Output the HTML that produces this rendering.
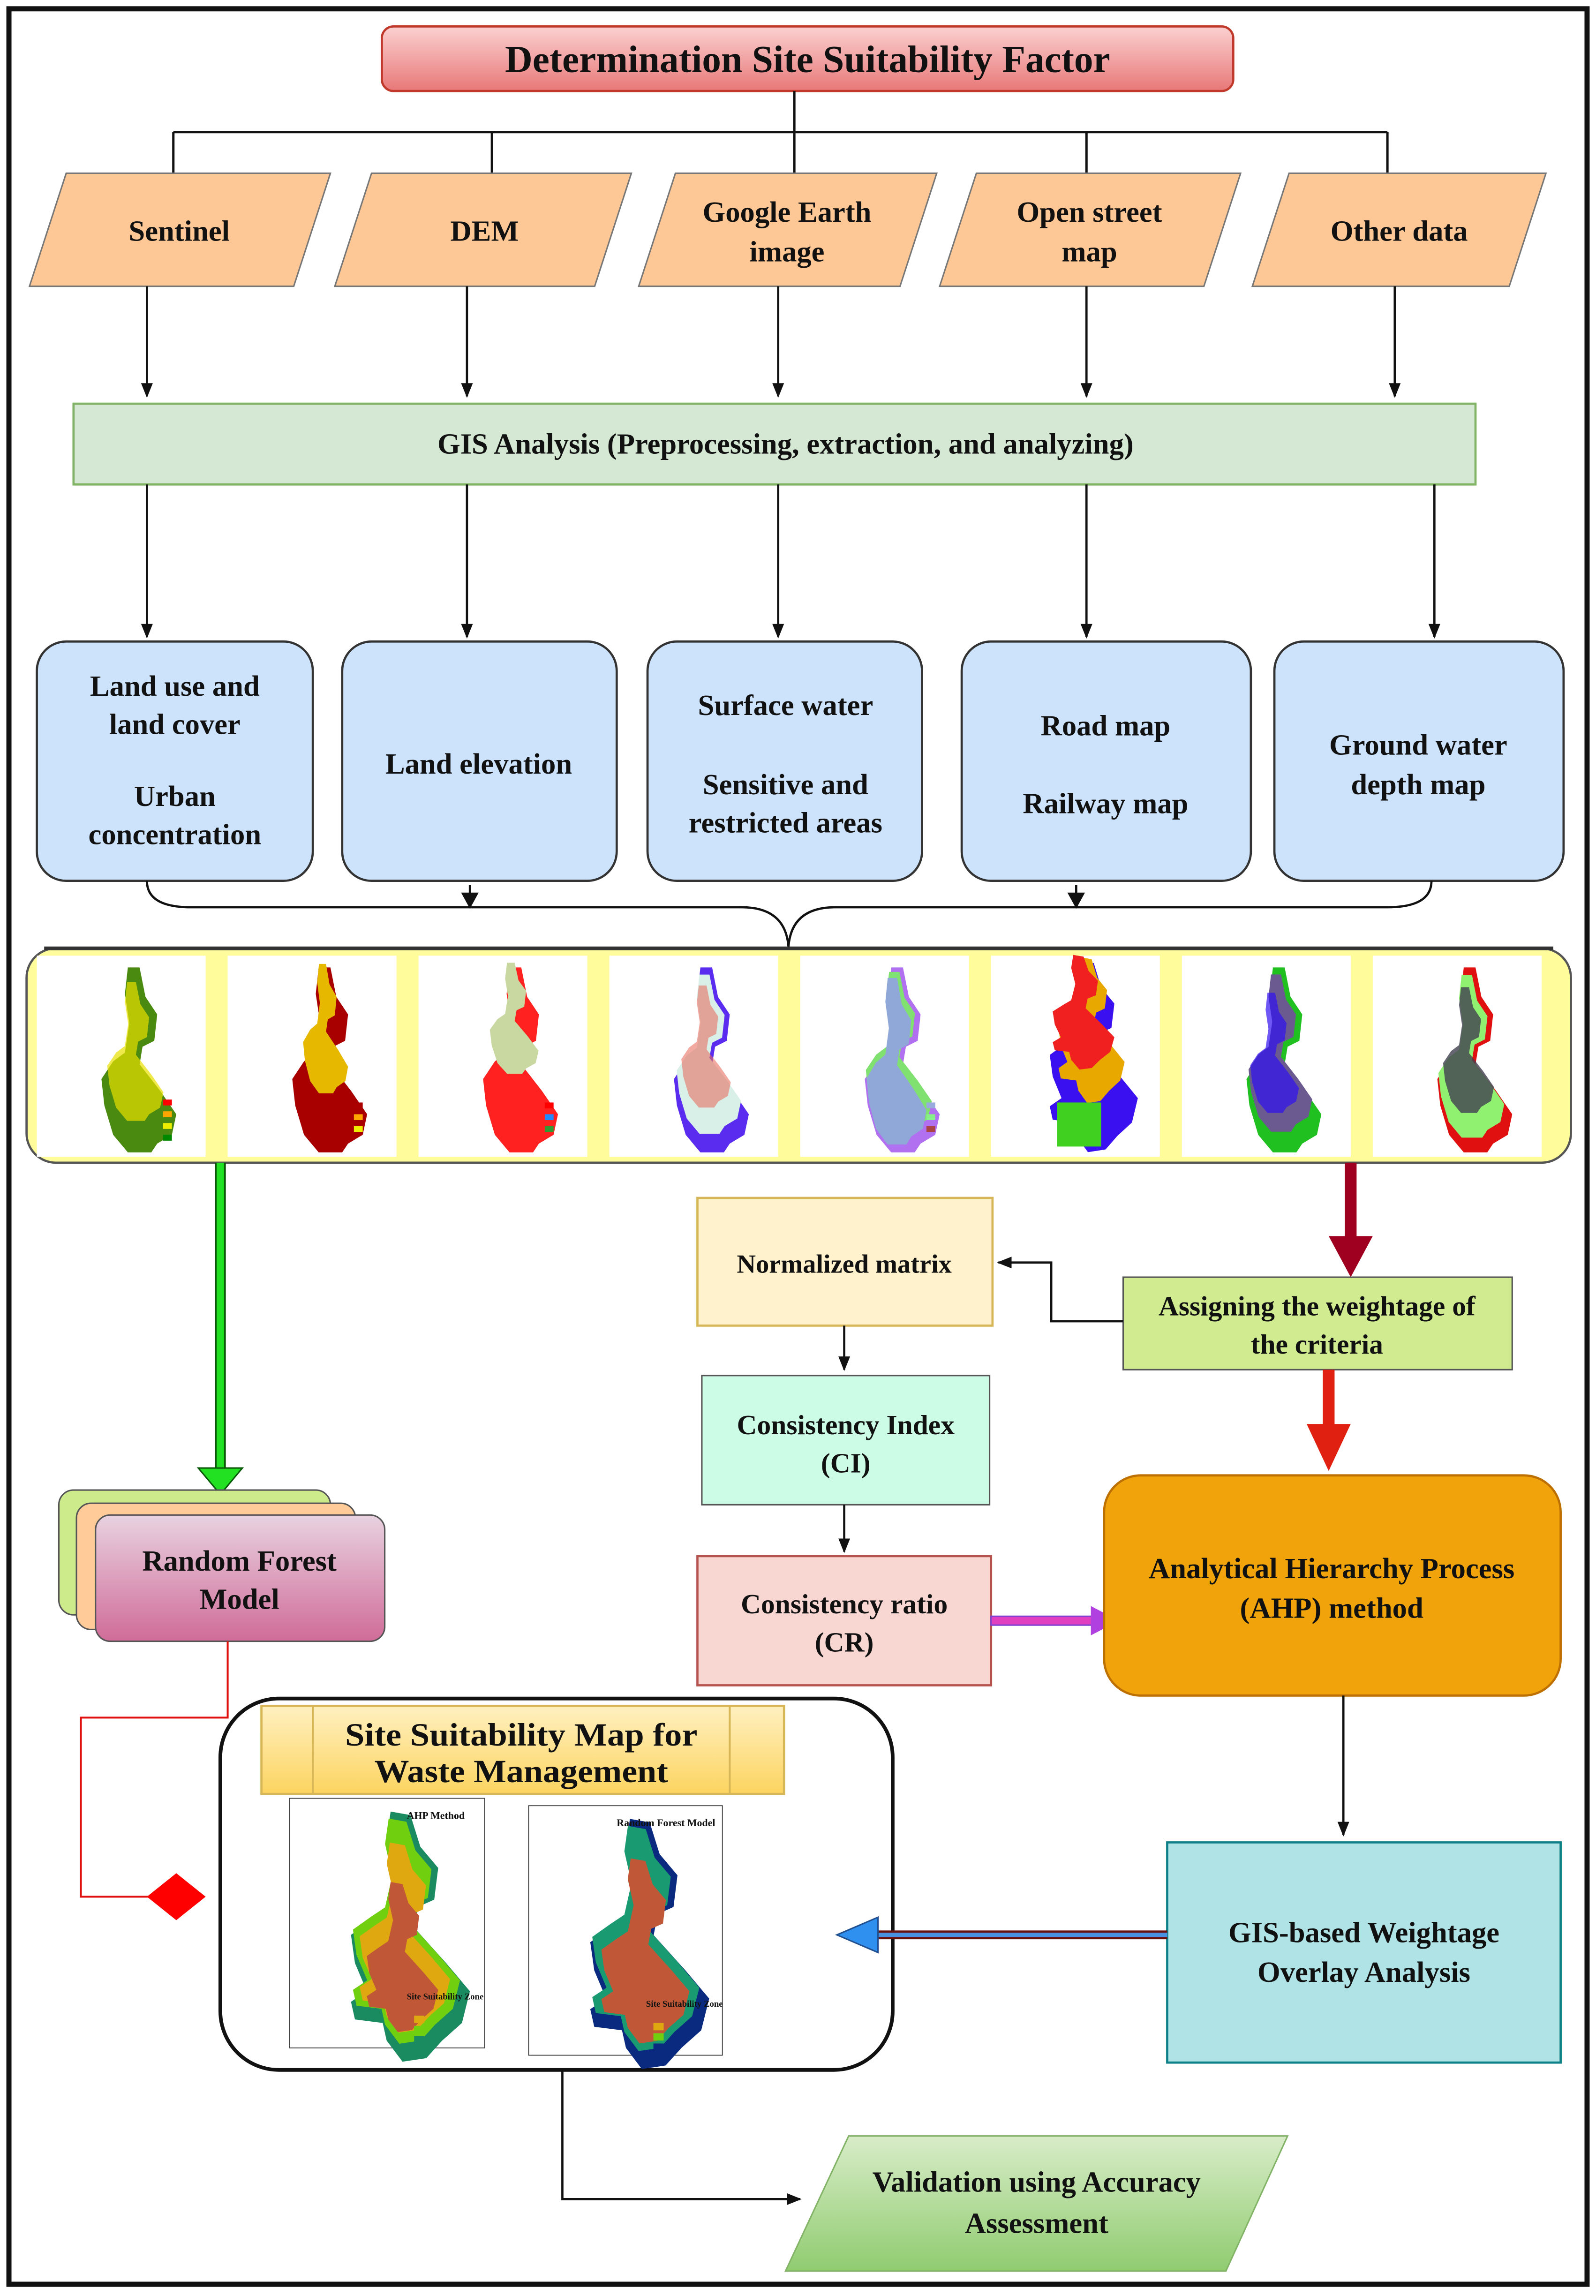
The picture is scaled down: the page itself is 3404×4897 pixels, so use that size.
<!DOCTYPE html>
<html><head><meta charset="utf-8"><style>
html,body{margin:0;padding:0;background:#fff}
svg{display:block}
text{font-family:"Liberation Serif",serif;font-weight:bold;fill:#111}
</style></head><body>
<svg width="3404" height="4897" viewBox="0 0 1087 1564" xmlns="http://www.w3.org/2000/svg">
<defs>
<linearGradient id="gt" x1="0" y1="0" x2="0" y2="1"><stop offset="0" stop-color="#fbd0d0"/><stop offset="1" stop-color="#e87878"/></linearGradient>
<linearGradient id="grf" x1="0" y1="0" x2="0" y2="1"><stop offset="0" stop-color="#e8d2e0"/><stop offset="1" stop-color="#d06c98"/></linearGradient>
<linearGradient id="ggold" x1="0" y1="0" x2="0" y2="1"><stop offset="0" stop-color="#fff0c0"/><stop offset="1" stop-color="#fcd460"/></linearGradient>
<linearGradient id="gval" x1="0" y1="0" x2="0" y2="1"><stop offset="0" stop-color="#d8ecc8"/><stop offset="1" stop-color="#90cc70"/></linearGradient>
<marker id="ah" markerWidth="10" markerHeight="10" refX="9" refY="5" orient="auto" markerUnits="userSpaceOnUse"><path d="M0,1 L10,5 L0,9 Z" fill="#111"/></marker>
<path id="reg" d="M62,8 L70,8 L74,28 L82,40 L80,58 L72,62 L70,74 L84,92 L95,108 L92,122 L82,128 L78,134 L62,134 L52,122 L46,102 L44,84 L52,72 L60,66 L63,46 L60,26 Z"/>
<path id="reg2" d="M60,10 L70,12 L75,30 L84,42 L82,60 L74,64 L72,76 L88,96 L100,112 L96,130 L86,140 L78,150 L66,152 L58,140 L56,130 L42,128 L40,118 L48,112 L42,96 L40,80 L50,72 L58,66 L62,46 L58,26 Z"/>
</defs>
<rect x="0" y="0" width="1087" height="1564" fill="#fff"/>
<rect x="6" y="6" width="1075" height="1550" fill="none" stroke="#111" stroke-width="3.5"/>

<rect x="260" y="18" width="580" height="44" rx="8" fill="url(#gt)" stroke="#c0392b" stroke-width="1.5"/>
<text x="550" y="49" font-size="26" text-anchor="middle">Determination Site Suitability Factor</text>
<path d="M541,62 V90 M118,90 H945 M118,90 V118 M335,90 V118 M541,90 V118 M740,90 V118 M945,90 V118" stroke="#111" stroke-width="1.6" fill="none"/>

<g fill="#fdc896" stroke="#777" stroke-width="1">
<polygon points="45,118 225,118 200,195 20,195"/>
<polygon points="253,118 430,118 405,195 228,195"/>
<polygon points="460,118 638,118 613,195 435,195"/>
<polygon points="665,118 845,118 820,195 640,195"/>
<polygon points="878,118 1053,118 1028,195 853,195"/>
</g>
<g font-size="20" text-anchor="middle">
<text x="122" y="164">Sentinel</text>
<text x="330" y="164">DEM</text>
<text x="536" y="151">Google Earth</text><text x="536" y="178">image</text>
<text x="742" y="151">Open street</text><text x="742" y="178">map</text>
<text x="953" y="164">Other data</text>
</g>
<g stroke="#111" stroke-width="1.5" marker-end="url(#ah)">
<line x1="100" y1="195" x2="100" y2="270"/><line x1="318" y1="195" x2="318" y2="270"/><line x1="530" y1="195" x2="530" y2="270"/><line x1="740" y1="195" x2="740" y2="270"/><line x1="950" y1="195" x2="950" y2="270"/>
</g>
<rect x="50" y="275" width="955" height="55" fill="#d5e8d4" stroke="#82b366" stroke-width="1.5"/>
<text x="535" y="309" font-size="20" text-anchor="middle">GIS Analysis (Preprocessing, extraction, and analyzing)</text>
<g stroke="#111" stroke-width="1.5" marker-end="url(#ah)">
<line x1="100" y1="330" x2="100" y2="434"/><line x1="318" y1="330" x2="318" y2="434"/><line x1="530" y1="330" x2="530" y2="434"/><line x1="740" y1="330" x2="740" y2="434"/><line x1="977" y1="330" x2="977" y2="434"/>
</g>
<g fill="#cde3fb" stroke="#333" stroke-width="1.5">
<rect x="25" y="437" width="188" height="163" rx="20"/>
<rect x="233" y="437" width="187" height="163" rx="20"/>
<rect x="441" y="437" width="187" height="163" rx="20"/>
<rect x="655" y="437" width="197" height="163" rx="20"/>
<rect x="868" y="437" width="197" height="163" rx="20"/>
</g>
<g font-size="20" text-anchor="middle">
<text x="119" y="474">Land use and</text><text x="119" y="500">land cover</text><text x="119" y="549">Urban</text><text x="119" y="575">concentration</text>
<text x="326" y="527">Land elevation</text>
<text x="535" y="487">Surface water</text><text x="535" y="541">Sensitive and</text><text x="535" y="567">restricted areas</text>
<text x="753" y="501">Road map</text><text x="753" y="554">Railway map</text>
<text x="966" y="514">Ground water</text><text x="966" y="541">depth map</text>
</g>
<path d="M100,600 Q100,618 130,618 L505,618 Q535,618 537,645 Q539,618 569,618 L945,618 Q975,618 975,600" fill="none" stroke="#111" stroke-width="1.5"/>
<path d="M320,603 L320,612 M733,603 L733,612" stroke="#111" stroke-width="1.5"/>
<path d="M314,608 L320,619 L326,608 Z M727,608 L733,619 L739,608 Z" fill="#111"/>

<rect x="18" y="646" width="1052" height="146" rx="20" fill="#fffc9c" stroke="#555" stroke-width="1.5"/>
<line x1="30" y1="646" x2="1058" y2="646" stroke="#333" stroke-width="2.5"/>
<g>
<g transform="translate(25,651)"><rect width="115" height="137" fill="#fff"/><use href="#reg" fill="#4a8a10"/><use href="#reg" fill="#e8e000" transform="translate(15,12) scale(0.75)" opacity="0.7"/><rect x="86" y="98" width="6" height="4" fill="red"/><rect x="86" y="106" width="6" height="4" fill="orange"/><rect x="86" y="114" width="6" height="4" fill="#ee0"/><rect x="86" y="122" width="6" height="4" fill="#080"/></g>
<g transform="translate(155,651)"><rect width="115" height="137" fill="#fff"/><use href="#reg" fill="#a80000"/><use href="#reg" fill="#e6b800" transform="translate(25,0) scale(0.6,0.7)"/><rect x="86" y="100" width="6" height="4" fill="#a00"/><rect x="86" y="108" width="6" height="4" fill="orange"/><rect x="86" y="116" width="6" height="4" fill="#ee0"/></g>
<g transform="translate(285,651)"><rect width="115" height="137" fill="#fff"/><use href="#reg" fill="#ff2020"/><use href="#reg" fill="#c8d8a0" transform="translate(20,0) scale(0.65,0.6)"/><rect x="86" y="100" width="6" height="4" fill="red"/><rect x="86" y="108" width="6" height="4" fill="#28f"/><rect x="86" y="116" width="6" height="4" fill="#393"/></g>
<g transform="translate(415,651)"><rect width="115" height="137" fill="#fff"/><use href="#reg" fill="#5a2cf0"/><use href="#reg" fill="#d8f0e8" transform="translate(8,6) scale(0.86)"/><use href="#reg" fill="#e87060" transform="translate(20,15) scale(0.66)" opacity="0.6"/></g>
<g transform="translate(545,651)"><rect width="115" height="137" fill="#fff"/><use href="#reg" fill="#b070f0"/><use href="#reg" fill="#80e070" transform="translate(6,4) scale(0.88)"/><use href="#reg" fill="#90a8d8" transform="translate(10,8) scale(0.8,0.9)"/><rect x="86" y="100" width="6" height="4" fill="#9ad"/><rect x="86" y="108" width="6" height="4" fill="#8e8"/><rect x="86" y="116" width="6" height="4" fill="#a44"/></g>
<g transform="translate(675,651)"><rect width="115" height="137" fill="#fff"/><use href="#reg2" fill="#3a10f0" transform="translate(0,-6) scale(1,0.92)"/><use href="#reg2" fill="#e8a800" transform="translate(16,-6) scale(0.75,0.7)"/><use href="#reg2" fill="#f02020" transform="translate(14,-6) scale(0.7,0.55)"/><rect x="45" y="100" width="30" height="30" fill="#40d020"/></g>
<g transform="translate(805,651)"><rect width="115" height="137" fill="#fff"/><use href="#reg" fill="#20c020"/><use href="#reg" fill="#6a5a90" transform="translate(8,6) scale(0.85)"/><use href="#reg" fill="#3010f0" transform="translate(18,20) scale(0.65)" opacity="0.7"/></g>
<g transform="translate(935,651)"><rect width="115" height="137" fill="#fff"/><use href="#reg" fill="#e01010"/><use href="#reg" fill="#90f070" transform="translate(6,6) scale(0.88)"/><use href="#reg" fill="#404050" transform="translate(18,16) scale(0.68)" opacity="0.8"/></g>
</g>

<path d="M147,792 V1000 M153,792 V1000" stroke="#0a5a0a" stroke-width="1.5"/>
<rect x="147.5" y="792" width="5" height="208" fill="#22e022"/>
<polygon points="135,1000 165,1000 150,1018" fill="#22e022" stroke="#0a5a0a" stroke-width="1"/>
<rect x="916" y="792" width="8" height="52" fill="#a00020"/>
<polygon points="905,842 935,842 920,870" fill="#a00020"/>

<rect x="475" y="816" width="201" height="87" fill="#fff2cc" stroke="#d6b656" stroke-width="1.5"/>
<text x="575" y="867" font-size="18" text-anchor="middle">Normalized matrix</text>
<rect x="765" y="870" width="265" height="63" fill="#d0eb90" stroke="#555" stroke-width="1"/>
<text x="897" y="896" font-size="19" text-anchor="middle">Assigning the weightage of</text>
<text x="897" y="922" font-size="19" text-anchor="middle">the criteria</text>
<path d="M765,900 H716 V860 H680" fill="none" stroke="#111" stroke-width="1.5" marker-end="url(#ah)"/>
<line x1="575" y1="903" x2="575" y2="933" stroke="#111" stroke-width="1.5" marker-end="url(#ah)"/>
<rect x="478" y="937" width="196" height="88" fill="#ccfce6" stroke="#555" stroke-width="1"/>
<text x="576" y="977" font-size="19" text-anchor="middle">Consistency Index</text>
<text x="576" y="1003" font-size="19" text-anchor="middle">(CI)</text>
<line x1="575" y1="1025" x2="575" y2="1057" stroke="#111" stroke-width="1.5" marker-end="url(#ah)"/>
<rect x="475" y="1060" width="200" height="88" fill="#f8d7d2" stroke="#b85450" stroke-width="1.5"/>
<text x="575" y="1099" font-size="19" text-anchor="middle">Consistency ratio</text>
<text x="575" y="1125" font-size="19" text-anchor="middle">(CR)</text>
<rect x="675" y="1101" width="70" height="6" fill="#e040c0" stroke="#8040d0" stroke-width="1"/>
<polygon points="743,1094 762,1104 743,1114" fill="#b040e0"/>
<rect x="901" y="933" width="8" height="40" fill="#e02010"/>
<polygon points="890,970 920,970 905,1002" fill="#e02010"/>
<rect x="752" y="1005" width="311" height="150" rx="25" fill="#f0a30a" stroke="#bd7000" stroke-width="1.5"/>
<text x="907" y="1075" font-size="20" text-anchor="middle">Analytical Hierarchy Process</text>
<text x="907" y="1102" font-size="20" text-anchor="middle">(AHP) method</text>
<line x1="915" y1="1155" x2="915" y2="1250" stroke="#111" stroke-width="1.5" marker-end="url(#ah)"/>
<rect x="795" y="1255" width="268" height="150" fill="#b0e3e6" stroke="#0e8088" stroke-width="1.5"/>
<text x="929" y="1323" font-size="20" text-anchor="middle">GIS-based Weightage</text>
<text x="929" y="1350" font-size="20" text-anchor="middle">Overlay Analysis</text>

<rect x="40" y="1015" width="185" height="85" rx="10" fill="#cdeb8b" stroke="#555"/>
<rect x="52" y="1024" width="190" height="86" rx="10" fill="#ffcc99" stroke="#555"/>
<rect x="65" y="1032" width="197" height="86" rx="10" fill="url(#grf)" stroke="#555"/>
<text x="163" y="1070" font-size="20" text-anchor="middle">Random Forest</text>
<text x="163" y="1096" font-size="20" text-anchor="middle">Model</text>
<path d="M155,1118 V1170 H55 V1292 H105" fill="none" stroke="#e01010" stroke-width="1.3"/>
<polygon points="100,1292 120,1276 140,1292 120,1308" fill="#ff0000"/>

<rect x="150" y="1157" width="458" height="253" rx="40" fill="#fff" stroke="#111" stroke-width="2.5"/>
<rect x="178" y="1162" width="356" height="60" fill="url(#ggold)" stroke="#d6b656" stroke-width="1.5"/>
<path d="M213,1162 V1222 M497,1162 V1222" stroke="#d6b656" stroke-width="1.3"/>
<text x="355" y="1189" font-size="22" text-anchor="middle" textLength="240" lengthAdjust="spacingAndGlyphs">Site Suitability Map for</text>
<text x="355" y="1214" font-size="22" text-anchor="middle" textLength="200" lengthAdjust="spacingAndGlyphs">Waste Management</text>
<g transform="translate(197,1225)">
<rect width="133" height="170" fill="#fff" stroke="#444" stroke-width="0.6"/>
<g transform="translate(-12,-3) scale(1.35,1.2)"><use href="#reg2" fill="#1a8a60"/><use href="#reg2" fill="#70d010" transform="translate(5,5) scale(0.9)"/><use href="#reg2" fill="#e0a810" transform="translate(14,20) scale(0.76)"/><use href="#reg2" fill="#c05838" transform="translate(24,44) scale(0.6)"/></g>
<text x="80" y="14" font-size="7" font-family="Liberation Sans" font-weight="normal">AHP Method</text>
<text x="80" y="137" font-size="6" font-family="Liberation Sans">Site Suitability Zone</text>
<rect x="85" y="141" width="7" height="5" fill="#c05838"/><rect x="85" y="148" width="7" height="5" fill="#e0a810"/><rect x="85" y="155" width="7" height="5" fill="#70d010"/><rect x="85" y="162" width="7" height="5" fill="#1a8a60"/>
</g>
<g transform="translate(360,1230)">
<rect width="132" height="170" fill="#fff" stroke="#444" stroke-width="0.6"/>
<g transform="translate(-12,-3) scale(1.35,1.2)"><use href="#reg2" fill="#0a2a80"/><use href="#reg2" fill="#1a9a70" transform="translate(5,5) scale(0.9)"/><use href="#reg2" fill="#c05838" transform="translate(16,25) scale(0.74)"/></g>
<text x="60" y="14" font-size="7" font-family="Liberation Sans" font-weight="normal">Random Forest Model</text>
<text x="80" y="137" font-size="6" font-family="Liberation Sans">Site Suitability Zone</text>
<rect x="85" y="141" width="7" height="5" fill="#c05838"/><rect x="85" y="148" width="7" height="5" fill="#e0a810"/><rect x="85" y="155" width="7" height="5" fill="#70d010"/><rect x="85" y="162" width="7" height="5" fill="#0a2a80"/>
</g>
<!-- blue arrow -->
<rect x="595" y="1315" width="200" height="6" fill="#6a1010"/>
<rect x="595" y="1316.5" width="200" height="3" fill="#4a90e0"/>
<polygon points="598,1306 570,1318 598,1330" fill="#3090f0" stroke="#205090" stroke-width="1"/>

<path d="M383,1410 V1498 H545" fill="none" stroke="#111" stroke-width="1.5" marker-end="url(#ah)"/>
<polygon points="578,1455 877,1455 835,1547 535,1547" fill="url(#gval)" stroke="#82b366" stroke-width="1"/>
<text x="706" y="1493" font-size="20" text-anchor="middle">Validation using Accuracy</text>
<text x="706" y="1521" font-size="20" text-anchor="middle">Assessment</text>
</svg>
</body></html>
